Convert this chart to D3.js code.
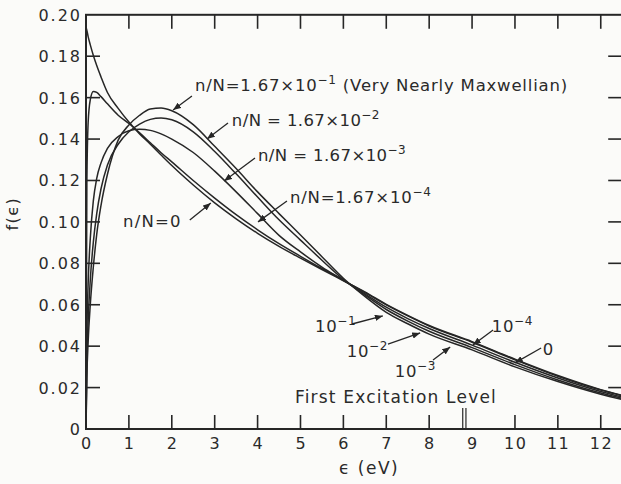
<!DOCTYPE html>
<html><head><meta charset="utf-8">
<script src="https://cdn.jsdelivr.net/npm/d3@7"></script>
<style>
body{margin:0;background:#fbfbf9;}
svg{display:block;}
text{font-family:"DejaVu Sans",sans-serif;fill:#2a2a2a;}
</style>
</head><body>
<svg id="chart" width="621" height="484"></svg>
<script>
// ---------------- data ----------------
const energy = [0, 0.02, 0.05, 0.1, 0.17, 0.25, 0.35, 0.5, 0.75, 1, 1.25, 1.5, 1.75, 2, 2.5, 3, 3.5, 4, 4.5, 5, 5.5, 6, 6.5, 7, 7.5, 8, 9, 10, 11, 12, 12.5];
// n/N = 0
const fRatio0 = [0.194, 0.1925, 0.1895, 0.1855, 0.1805, 0.1755, 0.170, 0.1625, 0.1548, 0.1482, 0.1425, 0.1375, 0.1323, 0.1272, 0.1178, 0.1092, 0.1015, 0.0945, 0.0882, 0.0825, 0.0770, 0.0716, 0.0662, 0.0602, 0.0549, 0.0500, 0.0422, 0.0337, 0.0258, 0.0190, 0.0162];
// n/N = 1.67e-4
const fRatio4 = [0, 0.118, 0.148, 0.159, 0.163, 0.1625, 0.1605, 0.157, 0.1515, 0.1475, 0.1430, 0.1382, 0.1334, 0.1290, 0.1200, 0.1115, 0.1035, 0.0962, 0.0895, 0.0834, 0.0775, 0.0719, 0.0659, 0.0599, 0.0546, 0.0497, 0.0419, 0.0334, 0.0255, 0.0188, 0.0160];
// n/N = 1.67e-3
const fRatio3 = [0, 0.045, 0.070, 0.092, 0.110, 0.121, 0.1285, 0.1355, 0.1412, 0.144, 0.1447, 0.1442, 0.1425, 0.140, 0.1335, 0.1245, 0.1145, 0.1040, 0.0935, 0.0855, 0.0782, 0.0718, 0.0653, 0.0588, 0.0533, 0.0485, 0.0405, 0.0322, 0.0246, 0.0181, 0.0154];
// n/N = 1.67e-2
const fRatio2 = [0, 0.032, 0.052, 0.072, 0.090, 0.104, 0.116, 0.1275, 0.1375, 0.1435, 0.1472, 0.1495, 0.1502, 0.1493, 0.1435, 0.1340, 0.1232, 0.1120, 0.1010, 0.0912, 0.0815, 0.0722, 0.0647, 0.0577, 0.0521, 0.0472, 0.0393, 0.0311, 0.0237, 0.0174, 0.0148];
// n/N = 1.67e-1 (very nearly Maxwellian)
const fRatio1 = [0, 0.025, 0.042, 0.060, 0.078, 0.094, 0.108, 0.123, 0.1395, 0.1468, 0.1515, 0.1545, 0.1550, 0.1537, 0.1470, 0.1365, 0.1258, 0.1145, 0.1040, 0.0937, 0.0832, 0.0728, 0.0640, 0.0563, 0.0508, 0.0458, 0.0382, 0.0300, 0.0229, 0.0168, 0.0143];

const seriesNames = ["n/N=0", "n/N=1.67e-4", "n/N=1.67e-3", "n/N=1.67e-2", "n/N=1.67e-1"];
const xTickValues = [0, 1, 2, 3, 4, 5, 6, 7, 8, 9, 10, 11, 12];
const yTickValues = [0, 0.02, 0.04, 0.06, 0.08, 0.10, 0.12, 0.14, 0.16, 0.18, 0.20];
const yTickLabels = ["0", "0.02", "0.04", "0.06", "0.08", "0.10", "0.12", "0.14", "0.16", "0.18", "0.20"];
const excitationLevel = 8.82;

// annotation texts: [text, isSuperscript]
const curveLabels = [
  {parts: [["n/N=1.67×10",0],["−1",1],[" (Very Nearly Maxwellian)",0]], at: [2.54, 0.1632], from: [2.47, 0.1608], to: [2.03, 0.1540], ls: 0.8},
  {parts: [["n/N = 1.67×10",0],["−2",1]], at: [3.40, 0.1463], from: [3.31, 0.1478], to: [2.82, 0.1400], ls: 0.4},
  {parts: [["n/N = 1.67×10",0],["−3",1]], at: [4.01, 0.1294], from: [3.94, 0.1309], to: [3.22, 0.1197], ls: 0.4},
  {parts: [["n/N=1.67×10",0],["−4",1]], at: [4.755, 0.1091], from: [4.685, 0.1101], to: [4.01, 0.1000], ls: 0.8},
  {parts: [["n/N=0",0]], at: [0.862, 0.0975], from: [2.42, 0.1009], to: [2.91, 0.1091], ls: 1.2},
  {parts: [["10",0],["−1",1]], at: [5.34, 0.0468], from: [6.20, 0.0507], to: [6.92, 0.0546], ls: 0.6},
  {parts: [["10",0],["−2",1]], at: [6.08, 0.0348], from: [7.04, 0.0410], to: [7.79, 0.0464], ls: 0.6},
  {parts: [["10",0],["−3",1]], at: [7.20, 0.0251], from: [8.09, 0.0333], to: [8.49, 0.0396], ls: 0.6},
  {parts: [["10",0],["−4",1]], at: [9.46, 0.0468], from: [9.49, 0.0478], to: [9.02, 0.0406], ls: 0.6},
  {parts: [["0",0]], at: [10.65, 0.0357], from: [10.61, 0.0391], to: [10.0, 0.0319], ls: 0}
];
const levelLabel = {text: "First Excitation Level", at: [4.87, 0.01255]};
const xTitle = "ϵ (eV)";
const yTitle = "f(ϵ)";

// ---------------- drawing ----------------
const W = 621, H = 484;
const x = d3.scaleLinear().domain([0, 12.5]).range([86, 622.2]);
const y = d3.scaleLinear().domain([0, 0.20]).range([429, 14.8]);
const svg = d3.select("#chart");
const ink = "#262626";

svg.append("rect").attr("width", W).attr("height", H).attr("fill", "#fbfbf9");

const defs = svg.append("defs");
defs.append("marker").attr("id", "ah").attr("viewBox", "0 0 10 8")
  .attr("refX", 10).attr("refY", 4).attr("markerWidth", 8).attr("markerHeight", 6.4)
  .attr("markerUnits", "userSpaceOnUse").attr("orient", "auto")
  .append("path").attr("d", "M0,0 L10,4 L0,8 Z").attr("fill", ink);

// frame
const frame = svg.append("g").attr("stroke", ink).attr("stroke-width", 2).attr("fill", "none");
frame.append("rect").attr("x", x(0)).attr("y", y(0.2)).attr("width", x(12.5) - x(0)).attr("height", y(0) - y(0.2));

// ticks (inward)
const tickLen = 14;
const tk = svg.append("g").attr("stroke", ink).attr("stroke-width", 1.6);
xTickValues.filter(v => v > 0 && v !== 9).forEach(v => {
  tk.append("line").attr("x1", x(v)).attr("x2", x(v)).attr("y1", y(0)).attr("y2", y(0) - tickLen);
});
xTickValues.filter(v => v > 0).forEach(v => {
  tk.append("line").attr("x1", x(v)).attr("x2", x(v)).attr("y1", y(0.2)).attr("y2", y(0.2) + tickLen);
});
yTickValues.filter(v => v > 0 && v < 0.2).forEach(v => {
  tk.append("line").attr("x1", x(0)).attr("x2", x(0) + tickLen).attr("y1", y(v)).attr("y2", y(v));
  tk.append("line").attr("x1", x(12.5)).attr("x2", x(12.5) - tickLen).attr("y1", y(v)).attr("y2", y(v));
});
// first excitation level marker (double line)
[-1.6, 1.6].forEach(d => {
  tk.append("line").attr("x1", x(excitationLevel) + d).attr("x2", x(excitationLevel) + d)
    .attr("y1", y(0)).attr("y2", y(0) - 21).attr("stroke-width", 1.2);
});

// tick labels
const tl = svg.append("g").attr("font-size", 16);
xTickValues.forEach(v => {
  tl.append("text").attr("x", x(v) + 0.75).attr("y", y(0) + 20).attr("text-anchor", "middle")
    .attr("letter-spacing", 1.5).text(String(v));
});
yTickValues.forEach((v, i) => {
  tl.append("text").attr("x", x(0) - 4).attr("y", y(v) + 6).attr("text-anchor", "end")
    .attr("letter-spacing", 2).text(yTickLabels[i]);
});

// axis titles
svg.append("text").attr("x", x(6.6)).attr("y", 474).attr("text-anchor", "middle")
  .attr("font-size", 17).attr("letter-spacing", 1.5).text(xTitle);
svg.append("text").attr("transform", `translate(18,${y(0.104)}) rotate(-90)`)
  .attr("text-anchor", "middle").attr("font-size", 16).attr("letter-spacing", 1.5).text(yTitle);

// curves
const series = [fRatio0, fRatio4, fRatio3, fRatio2, fRatio1];
const line = d3.line().x(d => x(d[0])).y(d => y(d[1])).curve(d3.curveMonotoneX);
svg.append("g").attr("fill", "none").attr("stroke", ink).attr("stroke-width", 1.5)
  .selectAll("path").data(series.map((s, i) => ({name: seriesNames[i], pts: energy.map((e, j) => [e, s[j]])})))
  .join("path").attr("d", d => line(d.pts));

// annotations
const ann = svg.append("g");
curveLabels.forEach(l => {
  ann.append("line").attr("x1", x(l.from[0])).attr("y1", y(l.from[1]))
    .attr("x2", x(l.to[0])).attr("y2", y(l.to[1]))
    .attr("stroke", ink).attr("stroke-width", 1.3).attr("marker-end", "url(#ah)");
  const t = ann.append("text").attr("x", x(l.at[0])).attr("y", y(l.at[1]))
    .attr("font-size", 16.5).attr("letter-spacing", l.ls);
  let up = false;
  l.parts.forEach(p => {
    const ts = t.append("tspan").text(p[0]);
    if (p[1] && !up) { ts.attr("dy", -7).attr("font-size", 12); up = true; }
    else if (!p[1] && up) { ts.attr("dy", 7); up = false; }
  });
});
svg.append("text").attr("x", x(levelLabel.at[0])).attr("y", y(levelLabel.at[1]))
  .attr("font-size", 17).attr("letter-spacing", 1.2).text(levelLabel.text);
</script>
</body></html>
